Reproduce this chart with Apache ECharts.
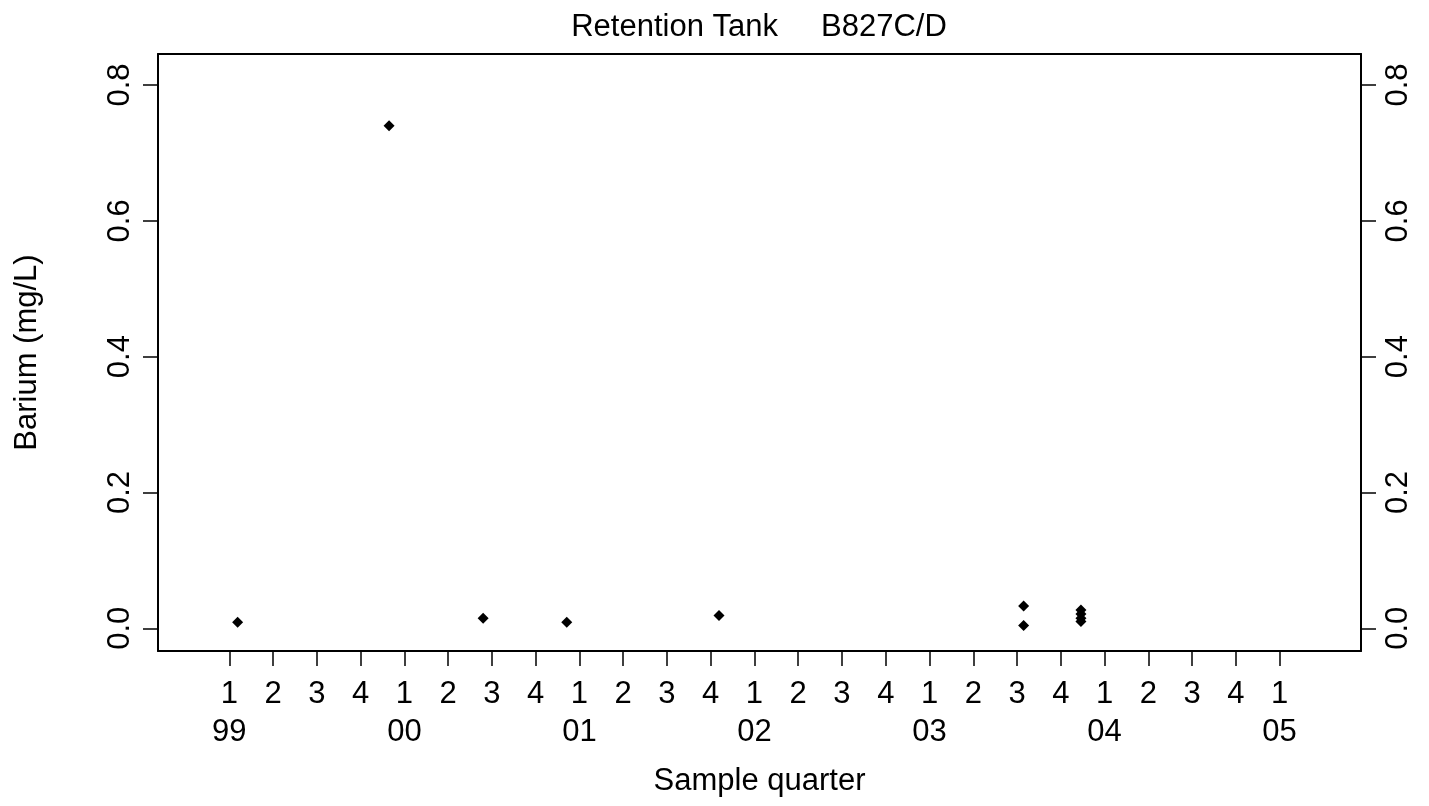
<!DOCTYPE html>
<html>
<head>
<meta charset="utf-8">
<script src="https://cdn.jsdelivr.net/npm/echarts@6/dist/echarts.min.js"></script>
<style>html,body{margin:0;padding:0;background:#fff;}#c{width:1429px;height:806px;}</style>
</head>
<body>
<div id="c"></div>
<script>
// quarter index: 0 = 1999 Q1
var sampleQuarter = [0.19, 3.65, 5.80, 7.71, 11.19, 18.15, 18.15, 19.46, 19.46, 19.46, 19.46];
var bariumValues = [0.009, 0.740, 0.015, 0.009, 0.019, 0.033, 0.004, 0.027, 0.021, 0.015, 0.010];
var quarterTicks = [0,1,2,3,4,5,6,7,8,9,10,11,12,13,14,15,16,17,18,19,20,21,22,23,24];
var quarterLabels = ['1','2','3','4','1','2','3','4','1','2','3','4','1','2','3','4','1','2','3','4','1','2','3','4','1'];
var yearLabels = ['99','','','','00','','','','01','','','','02','','','','03','','','','04','','','','05'];
var yTicks = [0, 0.2, 0.4, 0.6, 0.8];
var titleText = 'Retention Tank     B827C/D';

var FONT = 'Liberation Sans, Arial, sans-serif';
var FS = 31;
var chart = echarts.init(document.getElementById('c'), null, {renderer: 'canvas'});
var pts = sampleQuarter.map(function (q, i) { return [q, bariumValues[i]]; });
var lineStyle = {color: '#000', width: 2};
var tickStyle = {color: '#000', width: 1.5};
function yLabel(v) { return v.toFixed(1); }
chart.setOption({
  animation: false,
  backgroundColor: '#fff',
  grid: {left: 158, right: 68, top: 54, bottom: 155, show: false},
  graphic: [{
    type: 'text', x: 759, y: 27,
    style: {text: titleText, align: 'center', verticalAlign: 'middle',
            font: FS + 'px ' + FONT, fill: '#000'}
  }],
  xAxis: [{
    type: 'value', min: -1.63, max: 25.86, position: 'bottom',
    splitLine: {show: false},
    axisLine: {show: true, onZero: false, lineStyle: lineStyle},
    axisTick: {show: true, length: 15, lineStyle: tickStyle, customValues: quarterTicks},
    axisLabel: {
      customValues: quarterTicks, margin: 24, color: '#000', fontSize: FS, fontFamily: FONT,
      lineHeight: 38.5,
      formatter: function (v) {
        var i = Math.round(v);
        return yearLabels[i] ? quarterLabels[i] + '\n' + yearLabels[i] : quarterLabels[i];
      },
      verticalAlign: 'top'
    },
    name: 'Sample quarter', nameLocation: 'middle', nameGap: 115,
    nameTextStyle: {color: '#000', fontSize: FS, fontFamily: FONT}
  }, {
    type: 'value', min: -1.63, max: 25.86, position: 'top',
    splitLine: {show: false},
    axisLine: {show: true, onZero: false, lineStyle: lineStyle},
    axisTick: {show: false}, axisLabel: {show: false}
  }],
  yAxis: [{
    type: 'value', min: -0.0334, max: 0.8457, position: 'left',
    splitLine: {show: false},
    axisLine: {show: true, onZero: false, lineStyle: lineStyle},
    axisTick: {show: true, length: 15, lineStyle: tickStyle, customValues: yTicks},
    axisLabel: {
      customValues: yTicks, rotate: 90, margin: 22, color: '#000', fontSize: FS, fontFamily: FONT,
      formatter: yLabel
    },
    name: 'Barium (mg/L)', nameLocation: 'middle', nameGap: 115, nameRotate: 90,
    nameTextStyle: {color: '#000', fontSize: FS, fontFamily: FONT}
  }, {
    type: 'value', min: -0.0334, max: 0.8457, position: 'right',
    splitLine: {show: false},
    axisLine: {show: true, onZero: false, lineStyle: lineStyle},
    axisTick: {show: true, length: 15, lineStyle: tickStyle, customValues: yTicks},
    axisLabel: {
      customValues: yTicks, rotate: 90, margin: 22, color: '#000', fontSize: FS, fontFamily: FONT,
      formatter: yLabel
    }
  }],
  series: [{
    type: 'scatter', xAxisIndex: 0, yAxisIndex: 0,
    symbol: 'diamond', symbolSize: 11,
    itemStyle: {color: '#000', opacity: 1},
    data: pts
  }]
});
</script>
</body>
</html>
